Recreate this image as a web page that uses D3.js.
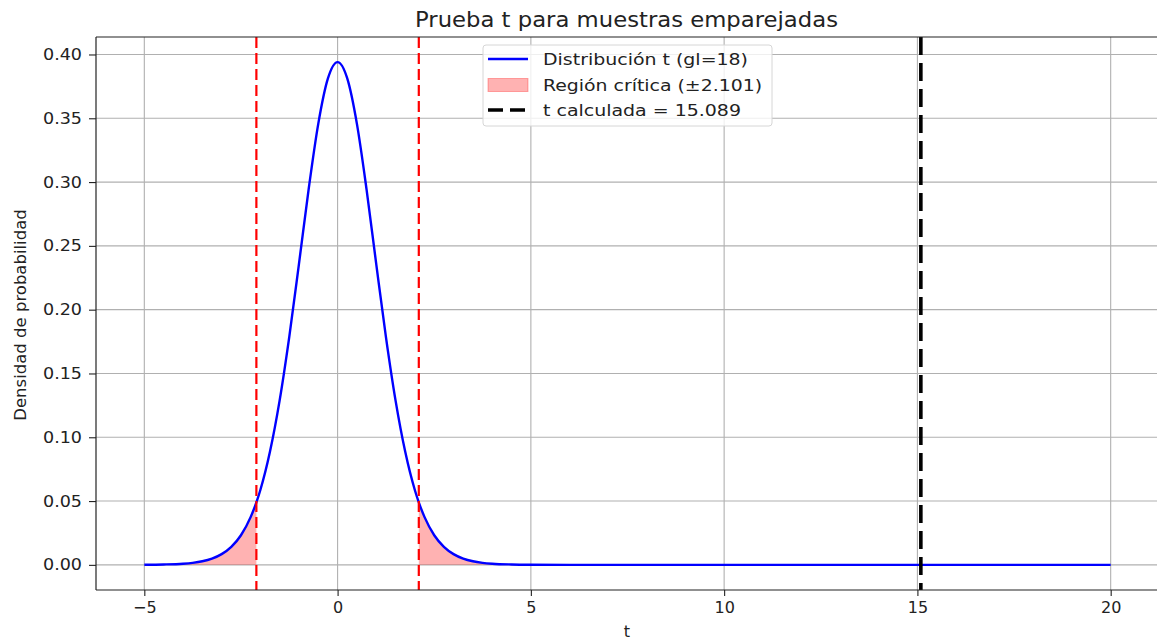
<!DOCTYPE html>
<html>
<head>
<meta charset="utf-8">
<script src="https://d3js.org/d3.v7.min.js"></script>
<style>
  body { margin: 0; background: #fff; }
  text { font-family: "DejaVu Sans", sans-serif; fill: #222; }
</style>
</head>
<body>
<svg id="chart" width="1157" height="641"></svg>
<script>
// t values and density (gl = 18)
var tValues = [-5, -4.5, -4, -3.75, -3.5, -3.25, -3, -2.75, -2.5, -2.25, -2.101, -2, -1.75, -1.5, -1.25, -1, -0.75, -0.5, -0.25,
               0, 0.25, 0.5, 0.75, 1, 1.25, 1.5, 1.75, 2, 2.101, 2.25, 2.5, 2.75, 3, 3.25, 3.5, 3.75, 4, 4.5, 5,
               6, 8, 10, 12, 14, 16, 18, 20];
var density = [0.0001, 0.0003, 0.0009, 0.0016, 0.0028, 0.0049, 0.0084, 0.0141, 0.0232, 0.0374, 0.049, 0.0585, 0.0886, 0.1287, 0.1787, 0.2357, 0.2941, 0.3456, 0.3812,
               0.394, 0.3812, 0.3456, 0.2941, 0.2357, 0.1787, 0.1287, 0.0886, 0.0585, 0.049, 0.0374, 0.0232, 0.0141, 0.0084, 0.0049, 0.0028, 0.0016, 0.0009, 0.0003, 0.0001,
               0, 0, 0, 0, 0, 0, 0, 0];
var tCrit = 2.101;
var tCalc = 15.089;
var xTicks = [-5, 0, 5, 10, 15, 20];
var yTicks = [0, 0.05, 0.10, 0.15, 0.20, 0.25, 0.30, 0.35, 0.40];
var legendLabels = ["Distribución t (gl=18)", "Región crítica (±2.101)", "t calculada = 15.089"];
var legendWidths = [205, 219, 198];

var pts = tValues.map(function(t, i){ return {t: t, d: density[i]}; });

var svg = d3.select("#chart");
var pLeft = 96, pRight = 1159, pTop = 37, pBottom = 590;

var x = d3.scaleLinear().domain([-6.25, 21.25]).range([pLeft, pRight]);
var y = d3.scaleLinear().domain([-0.0197, 0.4137]).range([pBottom, pTop]);

// grid
svg.append("g").selectAll("line").data(xTicks).enter().append("line")
  .attr("x1", function(d){ return x(d); }).attr("x2", function(d){ return x(d); })
  .attr("y1", pTop).attr("y2", pBottom)
  .style("stroke", "#b0b0b0").style("stroke-width", 1.1);
svg.append("g").selectAll("line").data(yTicks).enter().append("line")
  .attr("y1", function(d){ return y(d); }).attr("y2", function(d){ return y(d); })
  .attr("x1", pLeft).attr("x2", pRight)
  .style("stroke", "#b0b0b0").style("stroke-width", 1.1);

// critical regions
var area = d3.area().x(function(d){ return x(d.t); }).y0(y(0)).y1(function(d){ return y(d.d); })
  .curve(d3.curveMonotoneX);
var leftTail = pts.filter(function(d){ return d.t <= -tCrit; });
var rightTail = pts.filter(function(d){ return d.t >= tCrit && d.t <= 5; });
[leftTail, rightTail].forEach(function(seg){
  svg.append("path").datum(seg).attr("d", area)
    .style("fill", "#ff0000").style("fill-opacity", 0.3);
});

// curve
var line = d3.line().x(function(d){ return x(d.t); }).y(function(d){ return y(d.d); })
  .curve(d3.curveMonotoneX);
svg.append("path").datum(pts).attr("d", line)
  .style("fill", "none").style("stroke", "#0000ff").style("stroke-width", 2.4);

// critical lines
[-tCrit, tCrit].forEach(function(v){
  svg.append("line").attr("x1", x(v)).attr("x2", x(v)).attr("y1", pTop).attr("y2", pBottom)
    .style("stroke", "#ff0000").style("stroke-width", 2.2).style("stroke-dasharray", "11,5");
});
svg.append("line").attr("x1", x(tCalc)).attr("x2", x(tCalc)).attr("y1", pTop).attr("y2", pBottom)
  .style("stroke", "#000").style("stroke-width", 3.6).style("stroke-dasharray", "18,8");

// axes
var xAxis = d3.axisBottom(x).tickValues(xTicks).tickSize(6).tickPadding(6)
  .tickFormat(function(d){ return d < 0 ? "\u2212" + Math.abs(d) : d; });
var gx = svg.append("g").attr("transform", "translate(0," + pBottom + ")").call(xAxis);
var yAxis = d3.axisLeft(y).tickValues(yTicks).tickSize(7).tickPadding(7).tickFormat(d3.format(".2f"));
var gy = svg.append("g").attr("transform", "translate(" + pLeft + ",0)").call(yAxis);
[gx, gy].forEach(function(g){
  g.select(".domain").remove();
  g.selectAll("line").style("stroke", "#222").style("stroke-width", 1.1);
  g.selectAll("text").style("font-size", "16px").style("fill", "#222")
    .style("font-family", "DejaVu Sans, sans-serif");
});
gy.selectAll("text").attr("textLength", 39).attr("lengthAdjust", "spacingAndGlyphs");

// spines
svg.append("line").attr("x1", pLeft).attr("x2", pLeft).attr("y1", pTop).attr("y2", pBottom).style("stroke", "#222").style("stroke-width", 1.2);
svg.append("line").attr("x1", pLeft).attr("x2", pRight).attr("y1", pBottom).attr("y2", pBottom).style("stroke", "#222").style("stroke-width", 1.2);
svg.append("line").attr("x1", pLeft).attr("x2", pRight).attr("y1", pTop).attr("y2", pTop).style("stroke", "#222").style("stroke-width", 1.2);

// labels
svg.append("text").attr("x", 415).attr("y", 27)
  .attr("textLength", 423).attr("lengthAdjust", "spacingAndGlyphs")
  .style("font-size", "20.5px").text("Prueba t para muestras emparejadas");
svg.append("text").attr("x", 627).attr("y", 637).attr("text-anchor", "middle")
  .style("font-size", "16px").text("t");
svg.append("text").attr("transform", "translate(26,315) rotate(-90)").attr("text-anchor", "middle")
  .style("font-size", "16.5px").text("Densidad de probabilidad");

// legend
var lg = svg.append("g");
lg.append("rect").attr("x", 483).attr("y", 45).attr("width", 289).attr("height", 81).attr("rx", 3)
  .style("fill", "#fff").style("fill-opacity", 0.8).style("stroke", "#d6d6d6").style("stroke-width", 1);
var rowY = [59, 85, 110];
lg.append("line").attr("x1", 488).attr("x2", 528).attr("y1", rowY[0]).attr("y2", rowY[0])
  .style("stroke", "#0000ff").style("stroke-width", 2.4);
lg.append("rect").attr("x", 488).attr("y", rowY[1] - 6.5).attr("width", 40).attr("height", 13)
  .style("fill", "#ff0000").style("fill-opacity", 0.3).style("stroke", "#ff0000").style("stroke-opacity", 0.3);
lg.append("line").attr("x1", 488).attr("x2", 528).attr("y1", rowY[2]).attr("y2", rowY[2])
  .style("stroke", "#000").style("stroke-width", 3.6).style("stroke-dasharray", "15,7");
lg.selectAll("text.lab").data(legendLabels).enter().append("text")
  .attr("x", 543).attr("y", function(d, i){ return rowY[i] + 6; })
  .attr("textLength", function(d, i){ return legendWidths[i]; }).attr("lengthAdjust", "spacingAndGlyphs")
  .style("font-size", "16px").text(function(d){ return d; });
</script>
</body>
</html>
